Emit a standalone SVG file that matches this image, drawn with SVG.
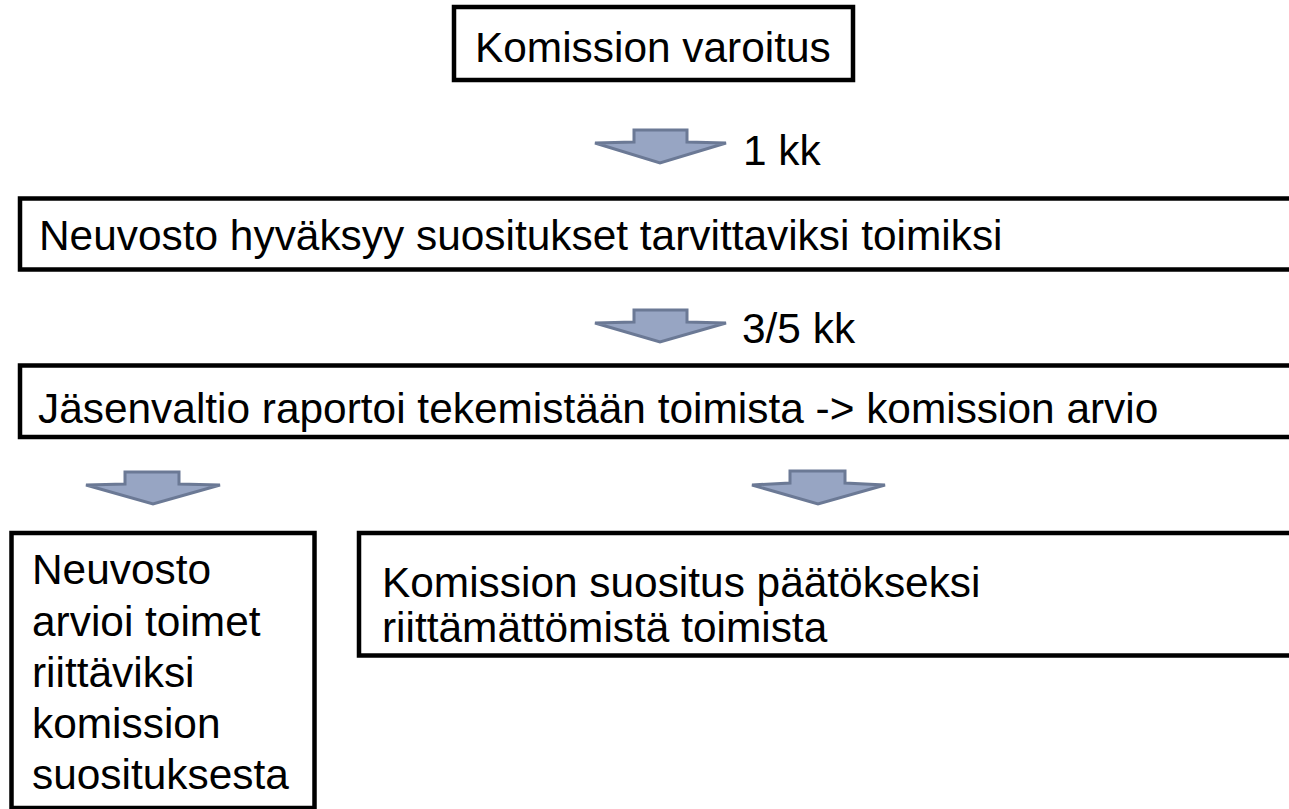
<svg xmlns="http://www.w3.org/2000/svg" width="1289" height="809" viewBox="0 0 1289 809">
<style>
.box{fill:#fff;stroke:#000;stroke-width:4.5}
.t{font-family:"Liberation Sans",Arial,sans-serif;font-size:42.4px;fill:#000}
.arr{fill:#97a5c3;stroke:#6b7995;stroke-width:3;stroke-linejoin:miter}
</style>
<rect width="1289" height="809" fill="#fff"/>
<g id="n1"><rect class="box" x="454" y="7" width="399" height="73"/><text class="t" x="475" y="62">Komission varoitus</text></g>
<g id="n2"><rect class="box" x="20" y="198.5" width="1300" height="71"/><text class="t" x="39" y="250">Neuvosto hyväksyy suositukset tarvittaviksi toimiksi</text></g>
<g id="n3"><rect class="box" x="20" y="365.5" width="1300" height="71.5"/><text class="t" x="38" y="423">Jäsenvaltio raportoi tekemistään toimista -&gt; komission arvio</text></g>
<g id="n4"><rect class="box" x="11.5" y="533" width="303" height="275"/><text class="t" x="32"><tspan x="32" y="584">Neuvosto</tspan><tspan x="32" y="636">arvioi toimet</tspan><tspan x="32" y="687">riittäviksi</tspan><tspan x="32" y="738">komission</tspan><tspan x="32" y="789">suosituksesta</tspan></text></g>
<g id="n5"><rect class="box" x="359" y="533" width="960" height="122.5"/><text class="t"><tspan x="382" y="597">Komission suositus päätökseksi</tspan><tspan x="382" y="642">riittämättömistä toimista</tspan></text></g>
<g id="connectors">
<polygon class="arr" points="634,130 687,130 687,142 726,143 660,163 595,143 634,142"/>
<text class="t" x="743" y="165">1 kk</text>
<polygon class="arr" points="634,310 687,310 687,322 726,323 660,342 595,323 634,322"/>
<text class="t" x="742" y="343">3/5 kk</text>
<polygon class="arr" points="125,472 179,472 179,484 220,485 153,504 86,485 125,484"/>
<polygon class="arr" points="790,471 845,471 845,483 885,485 818,504 752,485 790,483"/>
</g>
</svg>
